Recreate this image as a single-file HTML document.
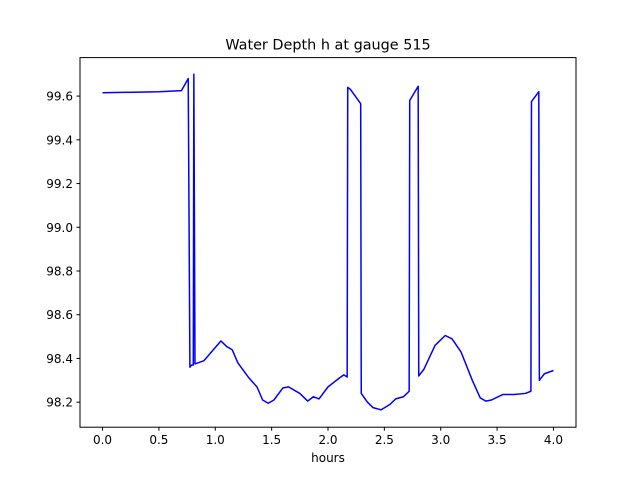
<!DOCTYPE html>
<html><head><meta charset="utf-8"><style>
body{margin:0;background:#fff;}
svg{display:block;font-family:"DejaVu Sans","Liberation Sans",sans-serif;}
</style></head><body>
<svg id="chart" width="640" height="480" viewBox="0 0 640 480">
<rect x="0" y="0" width="640" height="480" fill="#fff"/>
<text x="328" y="49.5" font-size="14.4" text-anchor="middle">Water Depth h at gauge 515</text>
<g id="plot"></g>
<rect x="80" y="57.6" width="496" height="369.6" fill="none" stroke="#000" stroke-width="1"/>
<text x="328" y="462" font-size="12" text-anchor="middle">hours</text>
</svg>
<script>
const xs=[0,0.5,0.7,0.76,0.775,0.79,0.805,0.81,0.82,0.9,1.0,1.05,1.1,1.15,1.2,1.3,1.37,1.42,1.47,1.52,1.6,1.65,1.75,1.82,1.87,1.92,2.0,2.1,2.14,2.17,2.175,2.2,2.29,2.295,2.35,2.4,2.47,2.55,2.6,2.67,2.72,2.725,2.8,2.805,2.85,2.95,3.04,3.1,3.18,3.28,3.35,3.4,3.45,3.55,3.65,3.75,3.8,3.805,3.87,3.875,3.92,4.0];
const hs=[99.615,99.62,99.625,99.68,98.36,98.37,98.37,99.70,98.375,98.39,98.45,98.48,98.455,98.44,98.38,98.31,98.27,98.21,98.195,98.21,98.265,98.27,98.24,98.205,98.225,98.215,98.27,98.31,98.325,98.315,99.64,99.63,99.565,98.24,98.2,98.175,98.165,98.19,98.215,98.225,98.25,99.58,99.645,98.32,98.35,98.46,98.505,98.49,98.43,98.3,98.22,98.205,98.21,98.235,98.235,98.24,98.25,99.575,99.62,98.3,98.33,98.345];
const xTicks=[0,0.5,1,1.5,2,2.5,3,3.5,4];
const xTickLabels=["0.0","0.5","1.0","1.5","2.0","2.5","3.0","3.5","4.0"];
const yTicks=[98.2,98.4,98.6,98.8,99.0,99.2,99.4,99.6];
const yTickLabels=["98.2","98.4","98.6","98.8","99.0","99.2","99.4","99.6"];
const L=80,R=576,T=57.6,B=427.2;
const xmin=-0.2,xmax=4.2,ymin=98.0856,ymax=99.776;
const sx=v=>L+(v-xmin)/(xmax-xmin)*(R-L);
const sy=v=>B-(v-ymin)/(ymax-ymin)*(B-T);
const NS="http://www.w3.org/2000/svg";
const g=document.getElementById('plot');
function mk(t,a){const e=document.createElementNS(NS,t);for(const k in a)e.setAttribute(k,a[k]);g.appendChild(e);return e;}
xTicks.forEach((v,i)=>{
 const l=mk('line',{x1:sx(v),x2:sx(v),y1:B,y2:B+3.5,stroke:'#000'});
 
 
 const t=mk('text',{x:sx(v),y:B+17,'font-size':12,'text-anchor':'middle'});
 t.textContent=xTickLabels[i];
 
 
});
yTicks.forEach((v,i)=>{
 const l=mk('line',{x1:L-3.5,x2:L,y1:sy(v),y2:sy(v),stroke:'#000'});
 
 
 const t=mk('text',{x:L-7,y:sy(v)+4.5,'font-size':12,'text-anchor':'end'});
 t.textContent=yTickLabels[i];
 
 
});
const p=mk('polyline',{points:xs.map((x,i)=>sx(x)+','+sy(hs[i])).join(' '),fill:'none',stroke:'#0000ff','stroke-width':1.5,'stroke-linejoin':'round'});


</script>
</body></html>
